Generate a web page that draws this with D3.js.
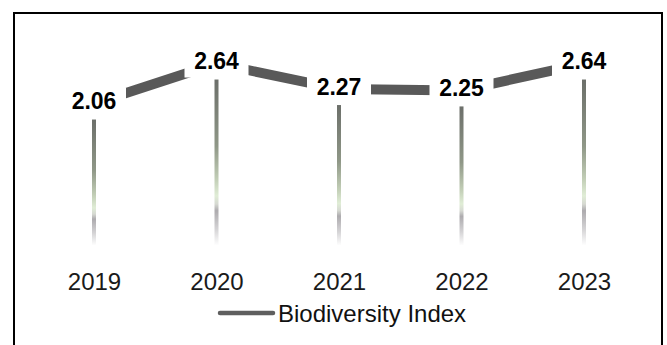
<!DOCTYPE html>
<html>
<head>
<meta charset="utf-8">
<script src="https://cdn.jsdelivr.net/npm/d3@7"></script>
<style>
  html, body { margin: 0; padding: 0; background: #ffffff; }
  svg { display: block; }
</style>
</head>
<body>
<svg id="chart" width="667" height="345"></svg>
<script>
// Data
const years = ["2019", "2020", "2021", "2022", "2023"];
const biodiversityIndex = [2.06, 2.64, 2.27, 2.25, 2.64];
const seriesName = "Biodiversity Index";

const svg = d3.select("#chart");

// Scales
const xs = d3.scalePoint().domain(years).range([94, 584]);
const y = d3.scaleLinear().domain([0, 3]).range([245.6, 38.7]);

const data = years.map((yr, i) => ({ year: yr, value: biodiversityIndex[i] }));

// Outer frame
svg.append("rect")
  .attr("x", 14).attr("y", 13)
  .attr("width", 648).attr("height", 345)
  .attr("fill", "#ffffff")
  .attr("stroke", "#000000")
  .attr("stroke-width", 2);

// Vertical gradient used by the stems
const defs = svg.append("defs");
const grad = defs.append("linearGradient")
  .attr("id", "stemGrad")
  .attr("x1", 0).attr("y1", 0).attr("x2", 0).attr("y2", 1);
[
  [0.00, "#6c6f6a"],
  [0.40, "#8f9787"],
  [0.60, "#c2ceb6"],
  [0.70, "#e0edd6"],
  [0.75, "#d6d9d2"],
  [0.79, "#adabae"],
  [0.90, "#d4d3d5"],
  [1.00, "#ffffff"]
].forEach(([o, c]) => grad.append("stop").attr("offset", o).attr("stop-color", c));

// Stems from the baseline up to just below each point
svg.append("g").selectAll("rect")
  .data(data)
  .join("rect")
  .attr("x", d => xs(d.year) - 2)
  .attr("y", d => y(d.value) + 16)
  .attr("width", 4)
  .attr("height", d => y(0) - (y(d.value) + 16))
  .attr("fill", "url(#stemGrad)");

// Connecting line
const line = d3.line()
  .x(d => xs(d.year))
  .y(d => y(d.value));

svg.append("path")
  .datum(data)
  .attr("d", line)
  .attr("fill", "none")
  .attr("stroke", "#595959")
  .attr("stroke-width", 10)
  .attr("stroke-linejoin", "miter");

// Value labels on white plates
const labels = svg.append("g").selectAll("g")
  .data(data)
  .join("g")
  .attr("transform", d => `translate(${xs(d.year)},${y(d.value)})`);

labels.append("rect")
  .attr("x", -32).attr("y", -16)
  .attr("width", 64).attr("height", 30)
  .attr("fill", "#ffffff");

labels.append("text")
  .attr("text-anchor", "middle")
  .attr("y", 5.5)
  .attr("font-family", "'Liberation Sans', Arial, sans-serif")
  .attr("font-size", 23)
  .attr("font-weight", "bold")
  .attr("fill", "#000000")
  .text(d => d.value.toFixed(2));

// Category axis
const axis = d3.axisBottom(xs).tickSize(0).tickPadding(0);
const gx = svg.append("g")
  .attr("transform", "translate(0,273)")
  .call(axis);
gx.select(".domain").remove();
gx.selectAll("text")
  .attr("font-family", "'Liberation Sans', Arial, sans-serif")
  .attr("font-size", 24)
  .attr("fill", "#1a1a1a")
  .attr("dy", "0.71em");

// Legend
const legend = svg.append("g").attr("transform", "translate(220,313)");
legend.append("line")
  .attr("x1", 0).attr("x2", 53)
  .attr("y1", 0).attr("y2", 0)
  .attr("stroke", "#5f5f5f")
  .attr("stroke-width", 4.5)
  .attr("stroke-linecap", "round");
legend.append("text")
  .attr("x", 58)
  .attr("y", 8.5)
  .attr("font-family", "'Liberation Sans', Arial, sans-serif")
  .attr("font-size", 24)
  .attr("fill", "#111111")
  .text(seriesName);
</script>
</body>
</html>
